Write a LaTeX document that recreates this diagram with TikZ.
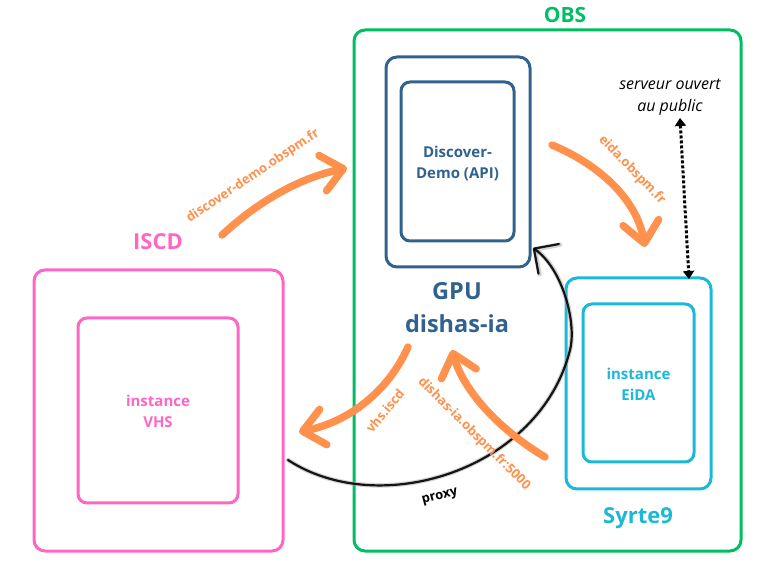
\documentclass[tikz,border=0pt]{standalone}
\usepackage{fontspec}
\setmainfont{Open Sans}
\usetikzlibrary{arrows.meta}
\definecolor{obsgreen}{HTML}{00BF63}
\definecolor{gpublue}{HTML}{31628F}
\definecolor{iscdpink}{HTML}{FF66C4}
\definecolor{syrtecyan}{HTML}{1CB8D8}
\definecolor{arrorange}{HTML}{FF914D}
\tikzset{
  box/.style={draw, line width=3pt, rounded corners=11pt, inner sep=0pt, outer sep=0pt},
  ibox/.style={draw, line width=3pt, rounded corners=9pt, inner sep=0pt, outer sep=0pt},
  title/.style={font=\fontsize{22}{28}\selectfont\bfseries, inner sep=0pt},
  inner text/.style={font=\fontsize{15}{21}\selectfont\bfseries, align=center, inner sep=0pt},
  olabel/.style={font=\fontsize{13}{15}\selectfont\bfseries, text=arrorange, inner sep=0pt},
  oarrow/.style={draw=arrorange, line width=7.5pt, line cap=round,
     -{Straight Barb[round, length=21pt, width=36pt]}},
  proxyhalo/.style={draw=black!35, line width=4.5pt, opacity=0.5, line cap=round,
     -{Straight Barb[round, length=18pt, width=36pt, line width=4.5pt]}},
  proxyline/.style={draw=black, line width=2.2pt, opacity=0.9, line cap=round,
     -{Straight Barb[round, length=18pt, width=36pt, line width=2.2pt]}},
  pubarrow/.style={draw=black, line width=3pt, dotted,
     {Triangle[length=8pt, width=11pt]}-{Triangle[length=8pt, width=11pt]}}
}
\begin{document}
\begin{tikzpicture}[x=1pt,y=-1pt]
\useasboundingbox (0,0) rectangle (780,577);

% OBS
\node[box, draw=obsgreen, minimum width=387pt, minimum height=521pt] (obs) at (547.5,290.5) {};
\node[title, text=obsgreen, font=\fontsize{21}{26}\selectfont\bfseries] (obst) at (565,15) {OBS};

% GPU
\node[box, draw=gpublue, minimum width=144pt, minimum height=210pt] (gpu) at (458,162) {};
\node[ibox, draw=gpublue, minimum width=113pt, minimum height=159pt] (api) at (457.5,161.5) {};
\node[inner text, text=gpublue] (apit) at (457.5,163) {Discover-\\Demo (API)};
\node[title, text=gpublue, font=\fontsize{23.5}{33}\selectfont\bfseries, align=center] (gput) at (457,308) {GPU\\dishas-ia};

% ISCD
\node[box, draw=iscdpink, minimum width=249pt, minimum height=281pt] (iscd) at (158.5,410.5) {};
\node[ibox, draw=iscdpink, minimum width=160pt, minimum height=185pt] (vhs) at (158,410.5) {};
\node[inner text, text=iscdpink] (vhst) at (158,411) {instance\\VHS};
\node[title, text=iscdpink] (iscdt) at (158,242) {ISCD};

% Syrte9
\node[box, draw=syrtecyan, minimum width=145pt, minimum height=211pt] (syrte) at (638.5,383.5) {};
\node[ibox, draw=syrtecyan, minimum width=111pt, minimum height=158pt] (eida) at (638.5,383) {};
\node[inner text, text=syrtecyan] (eidat) at (638.5,384) {instance\\EiDA};
\node[title, text=syrtecyan] (syrtet) at (638,518) {Syrte9};

% public
\node[font=\fontsize{16}{22}\selectfont\itshape, align=center, inner sep=0pt] (pub) at (670,97) {serveur ouvert\\au public};
\coordinate (pubtop) at (680,118);
\coordinate (pubbot) at (689,279);
\draw[pubarrow] (pubtop) -- (pubbot);

% proxy
\coordinate (ps) at (288,460);
\coordinate (pm) at (570,350);
\coordinate (pe) at (533,248);
\draw[proxyhalo] (ps) .. controls (380,520) and (540,470) .. (pm) .. controls (577,322) and (562,268) .. (pe);
\draw[proxyline] (ps) .. controls (380,520) and (540,470) .. (pm) .. controls (577,322) and (562,268) .. (pe);
\node[font=\fontsize{13}{16}\selectfont\bfseries, rotate=15, inner sep=0pt] (proxyt) at (440,497) {proxy};

% orange arrows
\coordinate (a1s) at (222,235);
\coordinate (a1e) at (347,168);
\draw[oarrow] (a1s) .. controls (260,200) and (300,178) .. (a1e);
\node[olabel, rotate=34] (l1) at (253,176) {discover-demo.obspm.fr};

\coordinate (a2s) at (552,145);
\coordinate (a2e) at (645,247);
\draw[oarrow] (a2s) .. controls (600,165) and (637,200) .. (a2e);
\node[olabel, rotate=-46] (l2) at (632,170) {eida.obspm.fr};

\coordinate (a3s) at (408,347);
\coordinate (a3e) at (299,432);
\draw[oarrow] (a3s) .. controls (388,392) and (348,422) .. (a3e);
\node[olabel, rotate=50] (l3) at (385,411) {vhs.iscd};

\coordinate (a4s) at (545,457);
\coordinate (a4e) at (452,350);
\draw[oarrow] (a4s) .. controls (500,430) and (464,392) .. (a4e);
\node[olabel, rotate=-45] (l4) at (474,434) {dishas-ia.obspm.fr:5000};

\end{tikzpicture}
\end{document}
